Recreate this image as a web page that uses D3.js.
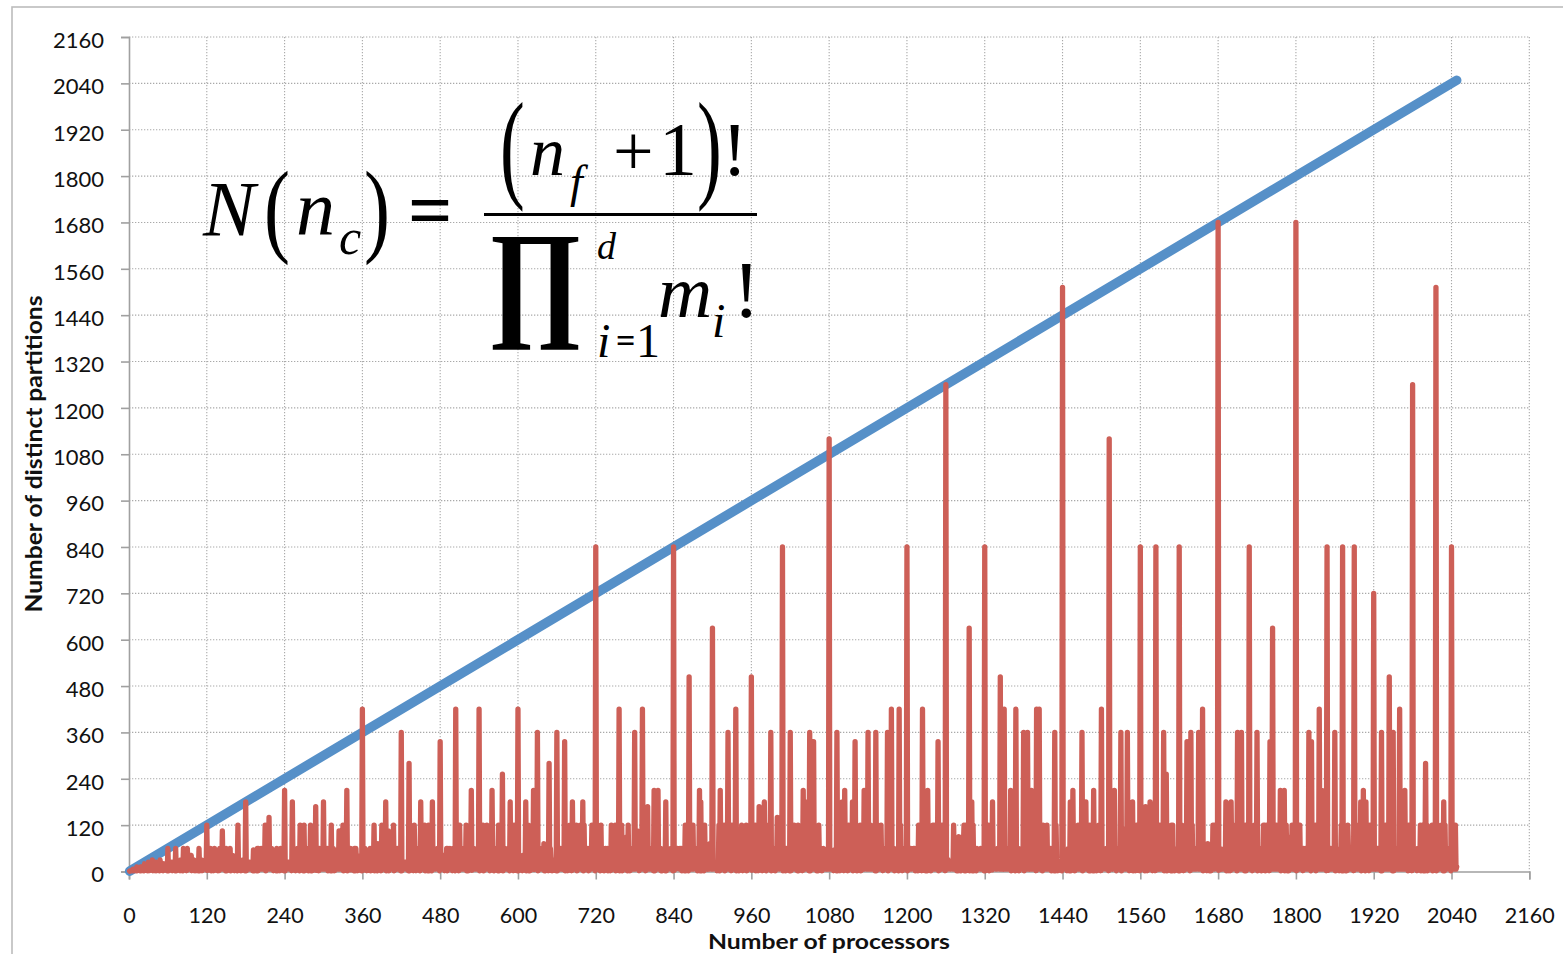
<!DOCTYPE html>
<html>
<head>
<meta charset="utf-8">
<script src="https://cdn.jsdelivr.net/npm/d3@7"></script>
<style>
html,body{margin:0;padding:0;background:#fff;}
svg{display:block;}
</style>
</head>
<body>
<svg id="chart" width="1563" height="954"></svg>
<script>
// ---------- data ----------
const xTickValues = [0,120,240,360,480,600,720,840,960,1080,1200,1320,1440,1560,1680,1800,1920,2040,2160];
const yTickValues = [0,120,240,360,480,600,720,840,960,1080,1200,1320,1440,1560,1680,1800,1920,2040,2160];
const xTitle = "Number of processors";
const yTitle = "Number of distinct partitions";
// blue series: number of processors (endpoints of the straight line)
const processorsX = [1, 2048];
const processorsY = [1, 2048];
// red series: distinct partitions for n = 1 .. 2048
const partitions = [
1,2,2,3,2,6,2,4,3,6,
2,12,2,6,6,5,2,12,2,12,
6,6,2,20,3,6,4,12,2,24,
2,6,6,6,6,30,2,6,6,20,
2,24,2,12,12,6,2,30,3,12,
6,12,2,20,6,20,6,6,2,60,
2,6,12,7,6,24,2,12,6,24,
2,60,2,6,12,12,6,24,2,30,
5,6,2,60,6,6,6,20,2,60,
6,12,6,6,6,42,2,12,12,30,
2,24,2,20,24,6,2,60,2,24,
6,30,2,24,6,12,12,6,6,120,
3,6,6,12,4,60,2,8,6,24,
2,60,6,6,20,20,2,24,2,60,
6,6,6,105,6,6,12,12,2,60,
2,20,12,24,6,60,2,6,6,42,
6,30,2,12,24,6,2,120,3,24,
12,12,2,24,12,30,6,6,2,180,
2,24,6,20,6,24,6,12,20,24,
2,56,2,6,24,30,2,60,2,60,
6,6,6,60,6,6,12,30,6,120,
2,12,6,6,6,140,6,6,6,60,
6,24,2,42,30,6,2,60,2,24,
24,20,2,60,6,12,6,24,2,210,
2,12,6,12,12,24,6,20,6,20,
2,180,6,6,24,9,2,24,6,60,
12,6,2,120,6,24,6,12,2,120,
2,30,24,6,12,60,2,6,12,120,
2,24,2,12,24,24,6,168,3,24,
6,12,2,60,6,20,20,6,6,180,
6,6,6,30,6,60,2,60,6,24,
2,120,2,6,60,12,2,24,6,56,
6,24,6,105,12,6,6,20,6,120,
2,12,12,6,6,210,2,12,6,60,
6,60,4,20,24,6,2,60,2,60,
20,42,2,24,6,12,24,6,2,420,
3,6,12,60,6,24,2,30,12,24,
6,60,2,24,20,20,6,120,2,60,
6,6,2,72,24,6,12,12,2,120,
6,60,6,6,6,180,2,6,24,105,
2,24,6,12,30,24,6,120,2,24,
6,12,6,60,6,42,6,24,2,360,
2,6,12,20,12,24,6,12,24,24,
2,280,2,24,24,12,6,24,2,120,
30,24,2,60,6,6,6,56,2,180,
6,12,6,6,24,120,2,6,20,60,
2,120,2,30,24,6,2,180,6,24,
6,20,6,24,12,60,12,6,2,336,
6,6,24,30,6,42,2,20,6,60,
2,60,6,24,60,30,6,24,2,60,
6,6,2,420,6,24,12,12,2,120,
6,10,20,6,6,60,6,24,6,120,
2,60,2,12,60,6,6,210,3,24,
12,60,6,24,6,20,6,6,12,420,
2,6,6,42,6,120,2,12,12,60,
6,120,6,6,24,12,2,60,6,210,
24,6,2,60,6,6,30,20,2,120,
2,60,6,24,12,252,2,12,6,60,
6,24,6,20,60,6,2,180,6,24,
6,30,2,120,24,12,6,24,2,420,
2,24,12,12,12,24,2,42,24,24,
6,180,2,6,24,120,2,24,2,60,
20,6,6,210,5,6,24,12,6,360,
2,20,6,6,6,60,12,24,12,72,
2,24,2,60,24,24,2,280,6,60,
24,12,2,24,6,30,12,24,2,360,
2,6,24,20,24,60,6,12,6,24,
6,336,2,6,60,30,2,24,6,120,
6,24,2,180,6,20,6,30,6,120,
2,12,60,6,6,120,6,6,6,180,
2,120,6,56,24,6,6,60,2,24,
12,20,6,120,24,12,6,6,2,840,
6,12,6,12,12,60,2,120,7,24,
6,60,2,6,60,42,6,60,2,60,
24,24,2,120,6,6,12,60,6,120,
2,30,6,24,6,420,2,6,24,120,
2,24,6,12,60,6,6,90,2,120,
6,12,2,60,12,20,24,6,6,360,
6,24,20,105,6,24,2,12,6,24,
6,420,6,6,24,12,2,120,6,168,
12,6,6,60,24,24,6,20,2,210,
2,60,6,24,6,210,6,6,60,60,
2,24,2,20,60,24,2,180,2,24,
6,56,12,24,6,60,20,6,2,840,
3,6,6,12,12,60,12,30,6,60,
6,60,2,24,60,20,2,120,2,60,
24,6,2,504,6,6,12,60,6,120,
6,20,12,24,20,60,2,6,6,210,
2,180,2,60,24,6,2,120,6,24,
30,12,6,24,6,72,24,6,6,630,
6,24,24,20,6,24,2,12,12,120,
2,210,6,6,24,12,6,120,2,120,
6,6,6,360,12,6,12,42,2,120,
12,12,6,6,24,420,2,24,6,60,
2,24,6,30,120,24,2,60,6,60,
6,120,2,60,6,12,24,6,6,504,
3,24,12,12,6,120,2,60,24,24,
2,168,6,6,60,30,2,24,6,180,
12,6,2,120,6,24,24,60,6,360,
2,42,6,24,6,60,2,6,20,140,
24,24,6,12,24,6,6,840,2,24,
6,60,2,60,24,20,12,6,2,360,
2,24,24,11,12,120,6,12,20,24,
2,120,2,24,60,60,6,24,2,210,
6,6,6,180,24,6,6,20,2,360,
2,12,30,24,6,336,6,12,6,60,
2,60,2,120,24,24,6,60,2,24,
60,30,6,24,12,12,6,60,6,1120,
6,6,12,12,24,24,2,56,30,24,
2,360,2,6,24,20,2,60,6,180,
6,24,2,210,24,24,20,12,2,120,
6,20,24,6,6,180,2,24,6,336,
6,120,2,12,60,6,12,120,2,24,
24,12,6,210,6,30,6,6,6,360,
6,6,12,120,6,24,6,60,6,60,
2,360,2,6,120,30,6,24,6,120,
20,24,2,60,6,24,6,30,6,360,
2,12,24,6,12,420,6,24,12,60,
2,24,12,42,24,6,2,420,6,120,
6,20,2,24,6,60,60,6,6,840,
2,6,6,60,6,60,6,20,24,60,
6,60,2,6,42,56,2,120,6,60,
24,24,2,420,30,6,6,12,2,120,
2,210,12,6,24,60,2,6,24,120,
6,120,6,12,24,24,6,336,2,30,
12,12,6,120,6,20,6,24,2,1260,
6,6,6,30,24,24,6,12,20,24,
6,120,6,60,60,60,2,60,2,90,
24,6,2,60,6,6,60,120,2,120,
2,60,6,6,24,630,2,24,6,180,
2,120,2,20,60,6,2,60,24,24,
24,42,6,60,6,60,6,6,2,840,
2,6,60,12,12,120,2,30,6,120,
4,180,6,24,24,20,6,24,6,60,
12,24,6,504,6,6,6,12,6,420,
6,60,24,6,6,60,6,24,12,210,
2,24,6,60,120,6,2,420,3,24,
6,60,2,24,20,42,30,24,6,360,
2,6,6,20,6,360,6,12,6,24,
6,210,6,24,60,12,6,24,2,420,
6,6,6,420,6,24,24,72,2,120,
6,12,12,24,6,120,6,6,24,60,
12,60,2,30,60,24,2,360,2,120,
20,20,2,24,24,12,6,6,2,1512,
6,24,24,30,12,24,2,20,60,60,
2,180,2,6,24,210,6,56,2,60,
6,24,24,120,6,6,12,12,6,360,
2,56,6,24,12,180,6,6,24,120,
2,120,2,60,120,6,2,210,2,24,
24,12,2,60,24,120,6,24,2,420,
6,6,12,42,24,24,6,60,6,24,
2,1120,6,6,24,12,6,120,12,210,
30,6,2,60,12,24,6,20,6,360,
2,12,24,24,6,110,6,6,30,360,
6,24,2,20,24,6,24,180,2,60,
24,30,2,120,6,12,12,24,2,840,
6,24,6,60,6,120,2,168,6,24,
2,60,12,6,180,20,6,24,2,60,
24,24,2,840,6,24,12,12,6,120,
6,20,20,6,24,360,2,24,24,252,
2,60,6,12,24,24,2,120,2,120,
12,60,2,24,24,30,60,6,2,840,
2,6,6,120,20,24,2,60,12,24,
6,336,6,24,24,12,2,360,6,120,
6,6,6,60,24,6,20,30,6,360,
6,60,24,6,6,420,2,6,24,60,
6,24,2,72,60,60,2,60,2,24,
6,120,6,120,12,12,24,6,6,1680,
3,12,60,12,6,24,6,20,6,60,
6,180,2,60,24,42,2,24,2,180,
42,24,6,120,24,6,6,60,2,360,
6,30,6,6,20,360,6,6,12,120,
2,120,2,12,60,6,6,840,24,24,
6,12,2,60,6,120,12,24,6,360,
2,24,24,30,6,60,2,60,24,120,
6,120,2,6,120,12,6,24,2,336,
6,6,6,630,6,6,24,120,6,120,
24,12,12,6,12,210,2,24,6,60,
6,210,2,20,120,24,2,60,2,24,
12,90,6,120,6,12,6,24,6,1680,
2,24,6,60,12,120,6,30,20,24,
2,60,12,6,60,20,6,60,6,360,
6,6,2,336,12,24,60,12,6,120,
2,20,24,24,6,420,6,6,6,210,
6,24,6,12,60,24,2,840,3,60,
6,12,6,60,24,56,6,6,12,360,
2,60,30,20,6,24,2,12,24,120,
2,840,2,6,30,60,2,24,2,120,
60,6,6,60,24,24,24,42,2,840,
6,60,6,6,6,120,6,24,12,180,
2,24,6,210,24,6,2,180,6,24,
60,20,2,120,6,12,20,24,6,720,
6,12,6,60,60,60,6,20,6,24,
2,360,2,6,60,105,6,120,6,60,
6,6,6,504,6,24,24,12,2,360,
2,42,60,6,24,60,6,24,6,420,
6,60,6,12,24,6,6,210,6,24,
20,60,2,120,12,120,6,24,2,1260,
6,6,6,56,6,24,2,60,60,24,
6,120,2,6,120,12,2,120,2,280,
24,120,2,60,6,24,12,20,12,120,
2,12,24,24,24,1512,2,6,6,60,
6,24,12,120,105,6,2,180,2,120,
6,30,6,60,24,12,24,6,2,840,
6,6,12,60,6,120,6,12
];

// ---------- layout ----------
const plot = {left:129, right:1529.3, top:37, bottom:871.5};
const svg = d3.select("#chart");
const x = d3.scaleLinear().domain([0,2160]).range([plot.left, plot.right]);
const y = d3.scaleLinear().domain([0,2160]).range([plot.bottom, plot.top]);

const gridColor = "#a9a9a9", axisColor = "#a0a0a0";
const sans = "Lato, 'Open Sans', 'Liberation Sans', sans-serif";
const serif = "'Liberation Serif', 'Times New Roman', 'DejaVu Serif', serif";

// outer border
svg.append("rect").attr("x",12).attr("y",7).attr("width",1600).attr("height",1000)
  .attr("fill","none").attr("stroke","#bcbcbc").attr("stroke-width",1.6);

// gridlines
const grid = svg.append("g");
grid.selectAll(".hg").data(yTickValues.filter(v=>v>0)).join("line")
  .attr("x1",plot.left).attr("x2",plot.right)
  .attr("y1",d=>y(d)).attr("y2",d=>y(d))
  .attr("stroke",gridColor).attr("stroke-width",1.1).attr("stroke-dasharray","1.3,1.7");
grid.selectAll(".vg").data(xTickValues.filter(v=>v>0)).join("line")
  .attr("y1",plot.top).attr("y2",plot.bottom)
  .attr("x1",d=>x(d)).attr("x2",d=>x(d))
  .attr("stroke",gridColor).attr("stroke-width",1.1).attr("stroke-dasharray","1.3,1.7");

// axes
const xAxis = d3.axisBottom(x).tickValues(xTickValues).tickSize(8).tickPadding(28).tickFormat(d3.format("d"));
const yAxis = d3.axisLeft(y).tickValues(yTickValues).tickSize(8).tickPadding(17).tickFormat(d3.format("d"));
const gx = svg.append("g").attr("transform",`translate(0,${plot.bottom})`).call(xAxis);
const gy = svg.append("g").attr("transform",`translate(${plot.left},0)`).call(yAxis);
[gx,gy].forEach(g=>{
  g.select(".domain").attr("stroke",axisColor).attr("stroke-width",1.6);
  g.selectAll(".tick line").attr("stroke",axisColor).attr("stroke-width",1.6);
  g.selectAll(".tick text").attr("fill","#111").attr("font-family",sans).attr("font-size",22);
});
gx.selectAll(".tick text").attr("font-size",21.5).attr("dy","0.70em");
gy.selectAll(".tick text").attr("dy","0.47em");

// axis titles
svg.append("text").attr("x",829).attr("y",948.5).attr("text-anchor","middle")
  .attr("font-family",sans).attr("font-weight","bold").attr("font-size",20.5)
  .attr("textLength",242).attr("lengthAdjust","spacingAndGlyphs")
  .attr("fill","#111").text(xTitle);
svg.append("text").attr("transform","translate(42,454) rotate(-90)").attr("text-anchor","middle")
  .attr("font-family",sans).attr("font-weight","bold").attr("font-size",23)
  .attr("textLength",317).attr("lengthAdjust","spacingAndGlyphs")
  .attr("fill","#111").text(yTitle);

// blue line
const blueData = processorsX.map((v,i)=>({n:v, v:processorsY[i]}));
svg.append("path").datum(blueData)
  .attr("d", d3.line().x(d=>x(d.n)).y(d=>y(d.v)))
  .attr("fill","none").attr("stroke","#5690c8").attr("stroke-width",9.5).attr("stroke-linecap","round");

// red line
const redData = partitions.map((v,i)=>({n:i+1, v:v}));
svg.append("path").datum(redData)
  .attr("d", d3.line().x(d=>x(d.n)).y(d=>y(d.v)))
  .attr("fill","none").attr("stroke","#cd5f57").attr("stroke-width",5.3)
  .attr("stroke-linejoin","round").attr("stroke-linecap","round");

// formula
const fg = svg.append("g").attr("fill","#000").attr("font-family",serif);
function t(str, px, py, size, opts={}){
  const sx = opts.sx || 1, sy = opts.sy || 1;
  const e = fg.append("text").attr("transform",`translate(${px},${py}) scale(${sx},${sy})`)
    .attr("x",0).attr("y",0).attr("font-size",size).text(str);
  if(opts.italic) e.attr("font-style","italic");
  if(opts.bold) e.attr("font-weight","bold");
  if(opts.anchor) e.attr("text-anchor",opts.anchor);
  return e;
}
t("N",203,235,78,{italic:true});
t("(",264,243,104,{sx:0.75});
t("n",296,235,78,{italic:true});
t("c",339,254,50,{italic:true});
t(")",364,243,104,{sx:0.75});
t("=",408,236,78,{bold:true});
fg.append("line").attr("x1",484).attr("x2",757).attr("y1",214.5).attr("y2",214.5).attr("stroke","#000").attr("stroke-width",3);
t("(",500,186,120,{sx:0.62});
t("n",530,175,70,{italic:true});
t("f",570,197,46,{italic:true});
t("+",613,175,72);
t("1",697,175,76,{anchor:"end"});
t(")",697,186,120,{sx:0.62});
t("!",722,175,76);
t("\u220F",488,322,116,{bold:true, sy:1.12});
t("d",597,259,38,{italic:true});
t("i",597,357,48,{italic:true});
t("=",616,352,34,{bold:true});
t("1",636,357,48);
t("m",658,317,75,{italic:true});
t("i",712,337,48,{italic:true});
t("!",733,317,80);
</script>
</body>
</html>
